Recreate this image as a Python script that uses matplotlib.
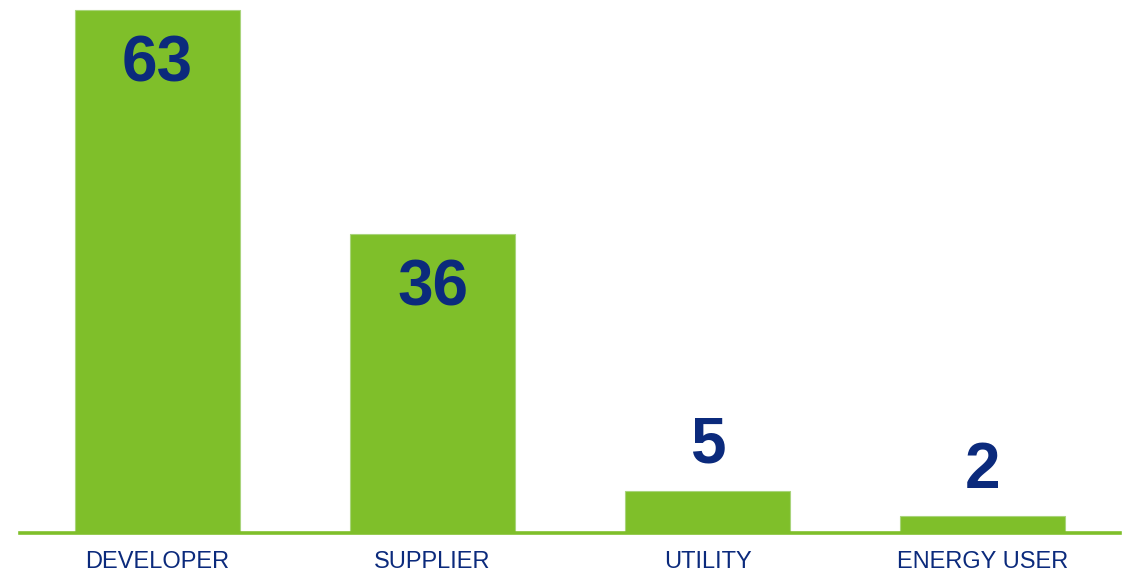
import matplotlib.pyplot as plt

# data
categories = ["DEVELOPER", "SUPPLIER", "UTILITY", "ENERGY USER"]
counts = [63, 36, 5, 2]
inside = [True, True, False, False]  # label inside bar or above it

bar_green = "#7fbf2a"
navy = "#0b2a7c"

plt.rcParams['font.family'] = ['Liberation Sans', 'DejaVu Sans']

fig = plt.figure(figsize=(11.25, 5.73), dpi=100)
ax = fig.add_axes([20 / 1125, 40 / 573, 1100 / 1125, 533 / 573])

x = range(len(categories))
bars = ax.bar(x, counts, width=0.6, color=bar_green, edgecolor="#a9d47c", linewidth=0.8, zorder=2)

for xi, v, ins in zip(x, counts, inside):
    off = -39 if ins else 33
    ax.annotate(str(v), (xi, v), xytext=(0, off), textcoords="offset points",
                ha="center", va="center", fontsize=46, fontweight="bold", color=navy)
    ax.annotate(categories[xi], (xi, 0), xytext=(0, -21), textcoords="offset points",
                ha="center", va="center", fontsize=17, color=navy)

ax.set_xlim(-0.5, 3.5)
ax.set_ylim(0, 64.2)
ax.axhline(0, color=bar_green, linewidth=2.6, zorder=3, clip_on=False)
for s in ax.spines.values():
    s.set_visible(False)
ax.set_xticks([])
ax.set_yticks([])

fig.savefig("out.png", dpi=100)
